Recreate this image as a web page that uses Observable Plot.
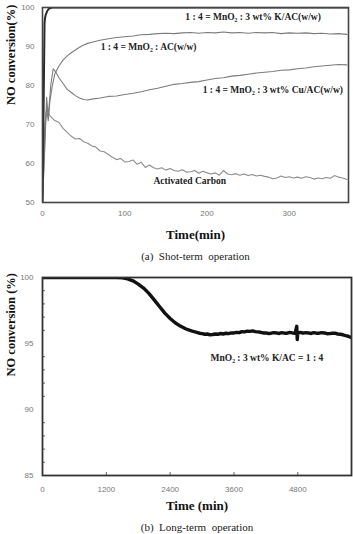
<!DOCTYPE html>
<html><head><meta charset="utf-8">
<script src="https://cdn.jsdelivr.net/npm/d3@7"></script>
<script src="https://cdn.jsdelivr.net/npm/@observablehq/plot@0.6"></script>
<style>
body{margin:0;background:#fff;}
#wrap{position:relative;width:353px;height:534px;overflow:hidden;background:#fff;}
#a{position:absolute;left:0;top:0;}
#b{position:absolute;left:0;top:268px;}
</style></head><body><div id="wrap"><div id="a"></div><div id="b"></div></div>
<script>
// ---------- (a) short-term data ----------
const shortTicksX = [0, 100, 200, 300];
const shortTicksY = [50, 60, 70, 80, 90, 100];

const kacTime = [0, 2.5, 3, 4, 6, 8, 12, 372];
const kacValue = [50, 96, 97.2, 98.2, 99.2, 99.7, 100, 100];

const acTime = [0, 3, 5, 7, 9, 12, 15, 20, 25, 30, 35, 40, 45, 50, 55, 60, 70, 80, 90, 100, 110, 120, 130, 140, 150, 160, 170, 180, 190, 200, 210, 220, 230, 240, 250, 260, 270, 280, 290, 300, 310, 320, 330, 340, 350, 360, 370];
const acValue = [50, 70, 74, 71, 76, 80, 83, 85, 86.5, 87.6, 88.4, 89.1, 89.8, 90.4, 90.8, 91.1, 91.6, 92.0, 92.3, 92.5, 92.7, 93.0, 93.1, 93.3, 93.4, 93.3, 93.5, 93.6, 93.4, 93.6, 93.5, 93.7, 93.5, 93.6, 93.4, 93.6, 93.5, 93.6, 93.3, 93.5, 93.4, 93.5, 93.3, 93.4, 93.2, 93.3, 93.1];

const cuTime = [0, 3, 5, 7, 10, 13, 16, 20, 25, 30, 35, 40, 45, 50, 55, 60, 70, 80, 90, 100, 110, 120, 130, 140, 150, 160, 170, 180, 190, 200, 210, 220, 230, 240, 250, 260, 270, 280, 290, 300, 310, 320, 330, 340, 350, 360, 370];
const cuValue = [50, 65, 77, 72, 80, 84.3, 83.5, 82, 80.5, 79, 78.2, 77.4, 76.8, 76.4, 76.3, 76.5, 76.8, 77.2, 77.3, 77.7, 78.0, 78.4, 78.9, 79.3, 79.8, 80.3, 80.5, 80.8, 81.0, 81.4, 81.8, 82.0, 82.4, 82.6, 82.9, 83.2, 83.4, 83.6, 83.9, 84.0, 84.3, 84.5, 84.8, 85.0, 85.2, 85.4, 85.3];

const carbonTime = [0, 3, 5, 7, 10, 15, 20, 25, 30, 35, 40, 45, 50, 55, 60, 65, 70, 75, 80, 85, 90, 95, 100, 105, 110, 115, 120, 125, 130, 135, 140, 145, 150, 155, 160, 165, 170, 175, 180, 185, 190, 195, 200, 205, 210, 215, 220, 225, 230, 235, 240, 245, 250, 255, 260, 265, 270, 275, 280, 285, 290, 295, 300, 305, 310, 315, 320, 325, 330, 335, 340, 345, 350, 355, 360, 365, 370];
const carbonValue = [50, 68, 74, 73, 72, 71, 70.5, 69, 68.0, 67.0, 66.3, 66.4, 65.6, 65.2, 64.5, 64.2, 63.2, 63.0, 62.3, 61.6, 61.0, 61.3, 60.4, 60.5, 60.9, 59.8, 60.3, 59.0, 59.6, 58.9, 58.6, 58.9, 58.3, 58.7, 58.2, 58.0, 58.4, 57.8, 57.9, 58.2, 57.5, 58.0, 57.6, 57.3, 57.6, 57.0, 58.2, 57.3, 57.1, 57.4, 57.0, 57.3, 56.9, 57.2, 56.8, 57.0, 56.7, 56.5, 56.1, 56.3, 56.8, 56.4, 56.6, 56.3, 56.5, 56.2, 56.6, 56.4, 56.0, 56.3, 56.1, 56.4, 56.2, 56.9, 56.5, 56.3, 55.9];

const shortLabels = ["1 : 4 = MnO₂ : 3 wt% K/AC(w/w)", "1 : 4 = MnO₂ : AC(w/w)", "1 : 4 = MnO₂ : 3 wt% Cu/AC(w/w)", "Activated Carbon"];
const shortLabelTime = [256, 129, 280, 179];
const shortLabelValue = [97.7, 89.8, 78.8, 55.4];

// ---------- (b) long-term data ----------
const longTicksX = [0, 1200, 2400, 3600, 4800];
const longTicksY = [85, 90, 95, 100];
const longMinorY = [86, 87, 88, 89, 91, 92, 93, 94, 96, 97, 98, 99];

const longTime = [0, 1400, 1500, 1600, 1700, 1800, 1900, 2000, 2100, 2200, 2300, 2400, 2500, 2600, 2700, 2800, 2850, 2900, 2950, 3000, 3050, 3100, 3150, 3200, 3250, 3300, 3350, 3400, 3450, 3500, 3550, 3600, 3650, 3700, 3750, 3800, 3850, 3900, 3950, 4000, 4050, 4100, 4150, 4200, 4250, 4300, 4350, 4400, 4450, 4500, 4550, 4600, 4650, 4700, 4750, 4780, 4790, 4800, 4850, 4900, 4950, 5000, 5050, 5100, 5150, 5200, 5250, 5300, 5350, 5400, 5450, 5500, 5550, 5600, 5650, 5700, 5750, 5800];
const longValue = [100, 100, 99.97, 99.9, 99.75, 99.5, 99.2, 98.8, 98.3, 97.8, 97.3, 96.9, 96.55, 96.3, 96.1, 95.95, 95.9, 95.85, 95.78, 95.75, 95.7, 95.72, 95.66, 95.68, 95.72, 95.7, 95.76, 95.72, 95.78, 95.75, 95.8, 95.8, 95.84, 95.82, 95.9, 95.88, 95.94, 95.92, 95.96, 95.9, 95.88, 95.85, 95.8, 95.8, 95.76, 95.78, 95.82, 95.8, 95.76, 95.82, 95.78, 95.78, 95.84, 95.8, 95.78, 96.3, 95.3, 95.8, 95.84, 95.78, 95.82, 95.8, 95.76, 95.82, 95.78, 95.78, 95.82, 95.8, 95.74, 95.75, 95.78, 95.78, 95.72, 95.7, 95.66, 95.6, 95.55, 95.45];

const longLabel = ["MnO₂ : 3 wt% K/AC = 1 : 4"];
const longLabelTime = [4219];
const longLabelValue = [93.94];

// ---------- build ----------
const serif = "'Liberation Serif', 'Times New Roman', 'DejaVu Serif', serif";
const sans = "'Liberation Sans', Arial, sans-serif";
const zip = (t, v) => t.map((d, i) => ({t: d, v: v[i]}));
const plain = d => String(d);

const kac = zip(kacTime, kacValue);
const ac = zip(acTime, acValue);
const cu = zip(cuTime, cuValue);
const carbon = zip(carbonTime, carbonValue);
const sLabels = shortLabels.map((s, i) => ({s, t: shortLabelTime[i], v: shortLabelValue[i]}));

const plotA = Plot.plot({
  width: 353, height: 265,
  marginTop: 7, marginBottom: 63, marginLeft: 42, marginRight: 5,
  style: {fontFamily: sans, background: "white", overflow: "visible"},
  x: {domain: [0, 372], label: null},
  y: {domain: [50, 100], label: null},
  marks: [
    Plot.axisX(shortTicksX, {tickSize: 0, tickPadding: 8, fontSize: 8, color: "#777", label: null, tickFormat: plain}),
    Plot.axisY(shortTicksY, {tickSize: 0, tickPadding: 8, fontSize: 8, color: "#777", label: null, tickFormat: plain}),
    Plot.line(carbon, {x: "t", y: "v", stroke: "#8c8c8c", strokeWidth: 1.1, clip: true}),
    Plot.line(cu, {x: "t", y: "v", stroke: "#7c7c7c", strokeWidth: 1.1, clip: true}),
    Plot.line(ac, {x: "t", y: "v", stroke: "#7c7c7c", strokeWidth: 1.1, clip: true}),
    Plot.line(kac, {x: "t", y: "v", stroke: "#2a2a2a", strokeWidth: 2, clip: true}),
    Plot.frame({stroke: "#444", strokeWidth: 1.6}),
    Plot.text(sLabels, {x: "t", y: "v", text: "s", fontFamily: serif, fontWeight: "bold", fontSize: 9.5, fill: "#222"}),
    Plot.text(["Time(min)"], {frameAnchor: "bottom", dy: 36, fontFamily: serif, fontWeight: "bold", fontSize: 13, fill: "#111"}),
    Plot.text(["(a)  Shot-term  operation"], {frameAnchor: "bottom", dy: 57, fontFamily: serif, fontSize: 11, fill: "#222"}),
    Plot.text(["NO conversion(%)"], {frameAnchor: "left", dx: -32, rotate: -90, fontFamily: serif, fontWeight: "bold", fontSize: 12.5, fill: "#111"})
  ]
});
document.getElementById("a").appendChild(plotA);

const longData = zip(longTime, longValue);
const lLabels = longLabel.map((s, i) => ({s, t: longLabelTime[i], v: longLabelValue[i]}));

const plotB = Plot.plot({
  width: 353, height: 266,
  marginTop: 9, marginBottom: 59, marginLeft: 42, marginRight: 2,
  style: {fontFamily: sans, background: "white", overflow: "visible"},
  x: {domain: [0, 5810], label: null},
  y: {domain: [85, 100], label: null},
  marks: [
    Plot.axisX(longTicksX, {tickSize: 0, tickPadding: 11, fontSize: 8, color: "#777", label: null, tickFormat: plain}),
    Plot.axisY(longTicksY, {tickSize: 0, tickPadding: 9, fontSize: 8, color: "#777", label: null, tickFormat: plain}),
    Plot.tickY(longMinorY, {y: d => d, stroke: "#666", insetRight: 306}),
    Plot.tickX(longTicksX.slice(1), {x: d => d, stroke: "#666", insetTop: 195}),
    Plot.line(longData, {x: "t", y: "v", stroke: "#111", strokeWidth: 3.4, strokeLinejoin: "round", clip: true}),
    Plot.frame({stroke: "#333", strokeWidth: 1.8}),
    Plot.text(lLabels, {x: "t", y: "v", text: "s", fontFamily: serif, fontWeight: "bold", fontSize: 9.5, fill: "#222"}),
    Plot.text(["Time (min)"], {frameAnchor: "bottom", dy: 34, fontFamily: serif, fontWeight: "bold", fontSize: 13, fill: "#111"}),
    Plot.text(["(b)  Long-term  operation"], {frameAnchor: "bottom", dy: 55, fontFamily: serif, fontSize: 11, fill: "#222"}),
    Plot.text(["NO conversion (%)"], {frameAnchor: "left", dx: -32, rotate: -90, fontFamily: serif, fontWeight: "bold", fontSize: 12.5, fill: "#111"})
  ]
});
document.getElementById("b").appendChild(plotB);
</script></body></html>
